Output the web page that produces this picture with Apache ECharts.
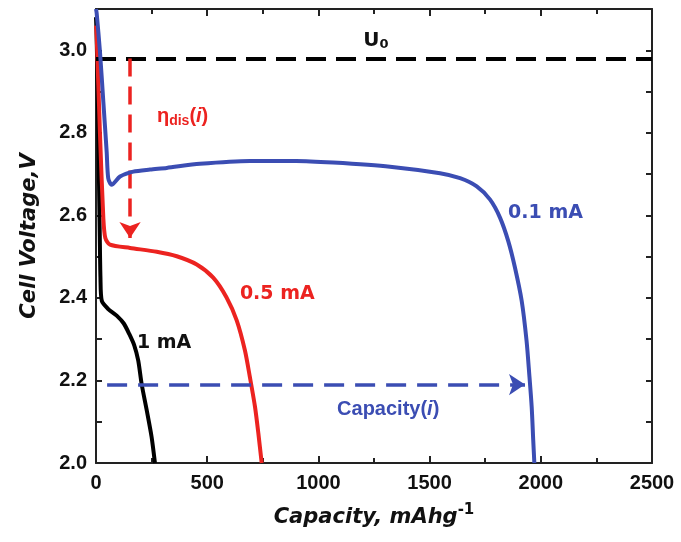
<!DOCTYPE html>
<html><head><meta charset="utf-8">
<script src="https://cdn.jsdelivr.net/npm/echarts@6/dist/echarts.min.js"></script>
<style>html,body{margin:0;padding:0;background:#fff}#c{width:681px;height:542px}</style>
</head><body><div id="c"></div>
<script>
// Data (capacity mAh/g, voltage V)
const cap01 = [0, 3, 18, 33, 48, 55, 70, 108, 168, 243, 318, 467, 692, 900, 1066, 1322, 1547, 1637, 1712, 1772, 1817, 1854, 1884, 1914, 1936, 1948, 1959, 1966, 1971];
const v01   = [3.10, 3.09, 2.995, 2.875, 2.754, 2.69, 2.674, 2.694, 2.706, 2.711, 2.715, 2.725, 2.732, 2.732, 2.728, 2.718, 2.702, 2.690, 2.670, 2.638, 2.594, 2.537, 2.473, 2.393, 2.296, 2.216, 2.136, 2.055, 2.0];
const cap05 = [0, 3, 18, 33, 42, 63, 153, 273, 363, 453, 527, 587, 633, 670, 692, 715, 730, 745];
const v05   = [3.06, 3.036, 2.795, 2.593, 2.545, 2.529, 2.521, 2.512, 2.501, 2.481, 2.449, 2.401, 2.345, 2.272, 2.208, 2.136, 2.072, 2.0];
const cap1  = [0, 2, 8, 13, 17, 20, 26, 55, 93, 125, 150, 172, 190, 205, 228, 250, 265];
const v1    = [3.08, 3.05, 2.9, 2.7, 2.55, 2.45, 2.393, 2.373, 2.357, 2.338, 2.312, 2.285, 2.248, 2.192, 2.128, 2.063, 2.0];
const xTicks = [0, 500, 1000, 1500, 2000, 2500];
const yTicks = [2.0, 2.2, 2.4, 2.6, 2.8, 3.0];
const U0 = 2.98;
const etaX = 153, etaEnd = 2.545;
const capArrowY = 2.19, capArrowStart = 50, capArrowEnd = 1929;

const zip = (a, b) => a.map((x, i) => [x, b[i]]);
const chart = echarts.init(document.getElementById('c'));
const numFont = {fontFamily: 'Liberation Sans', fontWeight: 'bold', fontSize: 20, color: '#111'};
const lblFont = 'DejaVu Sans';
const RED = '#ec2320', BLUE = '#3b4db3';
const yLabel = v => {
  const k = Math.round(v * 10);
  return (k % 2 === 0 && yTicks.some(t => Math.abs(t - v) < 1e-6)) ? v.toFixed(1) : '';
};
function xAxisCommon(extra) {
  return Object.assign({
    axisLine: {show: true, onZero: false, lineStyle: {color: '#222', width: 2}},
    axisTick: {show: true, inside: true, length: 7, lineStyle: {color: '#222', width: 2}},
    minorTick: {show: true, splitNumber: 2, length: 5, lineStyle: {color: '#222', width: 2}},
    splitLine: {show: false}
  }, extra);
}
function yAxisCommon(extra) {
  return Object.assign({
    type: 'value', min: 2.0, max: 3.1, interval: 0.1,
    axisLine: {show: true, onZero: false, lineStyle: {color: '#222', width: 2}},
    axisTick: {show: true, inside: true, length: 6, lineStyle: {color: '#222', width: 2}},
    splitLine: {show: false}
  }, extra);
}
const option = {
  animation: false,
  grid: {left: 96, right: 29, top: 9, bottom: 79},
  xAxis: [
    xAxisCommon({type: 'value', min: xTicks[0], max: xTicks[xTicks.length-1], interval: 500,
      axisLabel: Object.assign({margin: 10, formatter: v => String(v)}, numFont),
      name: '{t|Capacity, mAhg}{s|-1}', nameLocation: 'middle', nameGap: 40,
      nameTextStyle: {rich: {
        t: {fontFamily: lblFont, fontStyle: 'italic', fontWeight: 'bold', fontSize: 21, color: '#111'},
        s: {fontFamily: lblFont, fontWeight: 'bold', fontSize: 15, color: '#111', verticalAlign: 'bottom', padding: [0,0,14,0]}
      }}}),
    xAxisCommon({type: 'value', position: 'top', min: 0, max: 2500, interval: 500, axisLabel: {show: false}})
  ],
  yAxis: [
    yAxisCommon({
      axisLabel: Object.assign({margin: 9, formatter: yLabel}, numFont),
      name: 'Cell Voltage,V', nameLocation: 'middle', nameGap: 56,
      nameTextStyle: {fontFamily: lblFont, fontStyle: 'italic', fontWeight: 'bold', fontSize: 21, color: '#111'}}),
    yAxisCommon({position: 'right', axisLabel: {show: false}})
  ],
  series: [
    {type: 'line', data: zip(cap1, v1), smooth: 0.25, showSymbol: false, lineStyle: {color: '#000', width: 4}, z: 3},
    {type: 'line', data: zip(cap05, v05), smooth: 0.25, showSymbol: false, lineStyle: {color: RED, width: 4}, z: 4},
    {type: 'line', data: zip(cap01, v01), smooth: 0.25, showSymbol: false, lineStyle: {color: BLUE, width: 4}, z: 5},
    {type: 'line', data: [], z: 6,
      markLine: {silent: true, animation: false, label: {show: false},
        data: [
          [{coord: [0, U0], symbol: 'none', lineStyle: {color: '#000', width: 4, type: [20, 10]}},
           {coord: [2500, U0], symbol: 'none'}],
          [{coord: [etaX, U0], symbol: 'none', lineStyle: {color: RED, width: 3.5, type: [18, 10]}},
           {coord: [etaX, etaEnd], symbol: 'arrow', symbolSize: [16, 16]}],
          [{coord: [capArrowStart, capArrowY], symbol: 'none', lineStyle: {color: BLUE, width: 3.5, type: [20, 11]}},
           {coord: [capArrowEnd, capArrowY], symbol: 'arrow', symbolSize: [16, 16]}]
        ]},
      markPoint: {silent: true, symbol: 'circle', symbolSize: 0, animation: false,
        data: [
          {coord: [1259, 3.024], label: {show: true, position: 'inside', formatter: 'U{s|0}',
            fontFamily: lblFont, fontWeight: 'bold', fontSize: 20, color: '#111',
            rich: {s: {fontFamily: lblFont, fontWeight: 'bold', fontSize: 13, color: '#111', padding: [9,0,0,0]}}}},
          {coord: [274, 2.839], label: {show: true, position: 'right', distance: 0, formatter: 'η{s|dis}({i|i})',
            fontFamily: 'Liberation Sans', fontWeight: 'bold', fontSize: 20, color: RED,
            rich: {s: {fontFamily: 'Liberation Sans', fontWeight: 'bold', fontSize: 14, color: RED, padding: [9,0,0,0]},
                   i: {fontFamily: 'Liberation Sans', fontWeight: 'bold', fontStyle: 'italic', fontSize: 20, color: RED}}}},
          {coord: [1084, 2.13], label: {show: true, position: 'right', distance: 0, formatter: 'Capacity({i|i})',
            fontFamily: 'Liberation Sans', fontWeight: 'bold', fontSize: 20, color: BLUE,
            rich: {i: {fontFamily: 'Liberation Sans', fontWeight: 'bold', fontStyle: 'italic', fontSize: 20, color: BLUE}}}},
          {coord: [1853, 2.605], label: {show: true, position: 'right', distance: 0, formatter: '0.1 mA',
            fontFamily: lblFont, fontWeight: 'bold', fontSize: 19, color: BLUE}},
          {coord: [647, 2.41], label: {show: true, position: 'right', distance: 0, formatter: '0.5 mA',
            fontFamily: lblFont, fontWeight: 'bold', fontSize: 19, color: RED}},
          {coord: [184, 2.29], label: {show: true, position: 'right', distance: 0, formatter: '1 mA',
            fontFamily: lblFont, fontWeight: 'bold', fontSize: 19, color: '#111'}}
        ]}
    }
  ]
};
chart.setOption(option);
</script></body></html>
